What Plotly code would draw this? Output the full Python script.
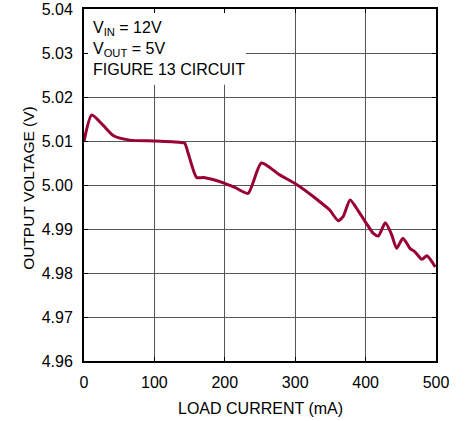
import plotly.graph_objects as go

load_current = [0, 11, 27, 42, 65, 100, 136, 143, 148, 160, 170, 198, 215, 233, 252, 278, 302,
                335, 349, 361, 368, 378, 390, 401, 411, 418, 428, 437, 444, 453, 463, 470,
                480, 487, 499]
output_voltage = [5.0099, 5.0159, 5.0136, 5.0112, 5.0102, 5.0100, 5.0097, 5.0095, 5.0072,
                  5.0017, 5.0017, 5.0005, 4.9994, 4.9981, 5.0050, 5.0023, 5.0001, 4.9962,
                  4.9943, 4.9919, 4.9928, 4.9966, 4.9940, 4.9913, 4.9890, 4.9884, 4.9914,
                  4.9887, 4.9856, 4.9879, 4.9856, 4.9848, 4.9831, 4.9839, 4.9814]
x_ticks = [0, 100, 200, 300, 400, 500]
y_ticks = [4.96, 4.97, 4.98, 4.99, 5.00, 5.01, 5.02, 5.03, 5.04]

FONT = "Liberation Sans, Arial, sans-serif"

fig = go.Figure()
fig.add_trace(go.Scatter(
    x=load_current, y=output_voltage, mode="lines",
    line=dict(color="#990033", width=3, shape="spline", smoothing=0.6),
    showlegend=False, hoverinfo="skip"))

axis_common = dict(
    showline=True, linecolor="black", linewidth=2, mirror="allticks",
    ticks="inside", ticklen=4, tickcolor="black", tickwidth=1,
    showgrid=True, gridcolor="#555555", gridwidth=1.4, zeroline=False,
    tickfont=dict(family=FONT, size=16, color="black"), automargin=False,
)

fig.update_xaxes(range=[0, 500], tickvals=x_ticks, ticktext=[str(v) for v in x_ticks],
                 ticklabelstandoff=6, **axis_common)
fig.update_yaxes(range=[4.96, 5.04], tickvals=y_ticks, ticktext=[f"{v:.2f}" for v in y_ticks],
                 ticklabelstandoff=6, **axis_common)

fig.add_shape(type="rect", xref="x", yref="y", x0=0, x1=230, y0=5.0228, y1=5.04,
              fillcolor="white", line=dict(width=0), layer="between")

fig.add_annotation(xref="x", yref="y", x=10, y=5.0381, xanchor="left", yanchor="top",
                   align="left", showarrow=False,
                   text="V<sub>IN</sub> = 12V<br>V<sub>OUT</sub> = 5V<br>FIGURE 13 CIRCUIT",
                   font=dict(family=FONT, size=16, color="black"))

# axis titles
fig.add_annotation(xref="paper", yref="paper", x=0.5, y=-0.134, xanchor="center", yanchor="middle",
                   text="LOAD CURRENT (mA)", showarrow=False,
                   font=dict(family=FONT, size=16, color="black"))
fig.add_annotation(xref="paper", yref="paper", x=-0.16, y=0.491, xanchor="center", yanchor="middle",
                   text="OUTPUT VOLTAGE (V)", textangle=-90, showarrow=False,
                   font=dict(family=FONT, size=15.5, color="black"))

fig.update_layout(width=465, height=421, margin=dict(l=84, r=29, t=9, b=60),
                  paper_bgcolor="white", plot_bgcolor="white")

fig.write_html("out.html", config={"displayModeBar": False},
               post_script="document.body.style.margin='0';")
